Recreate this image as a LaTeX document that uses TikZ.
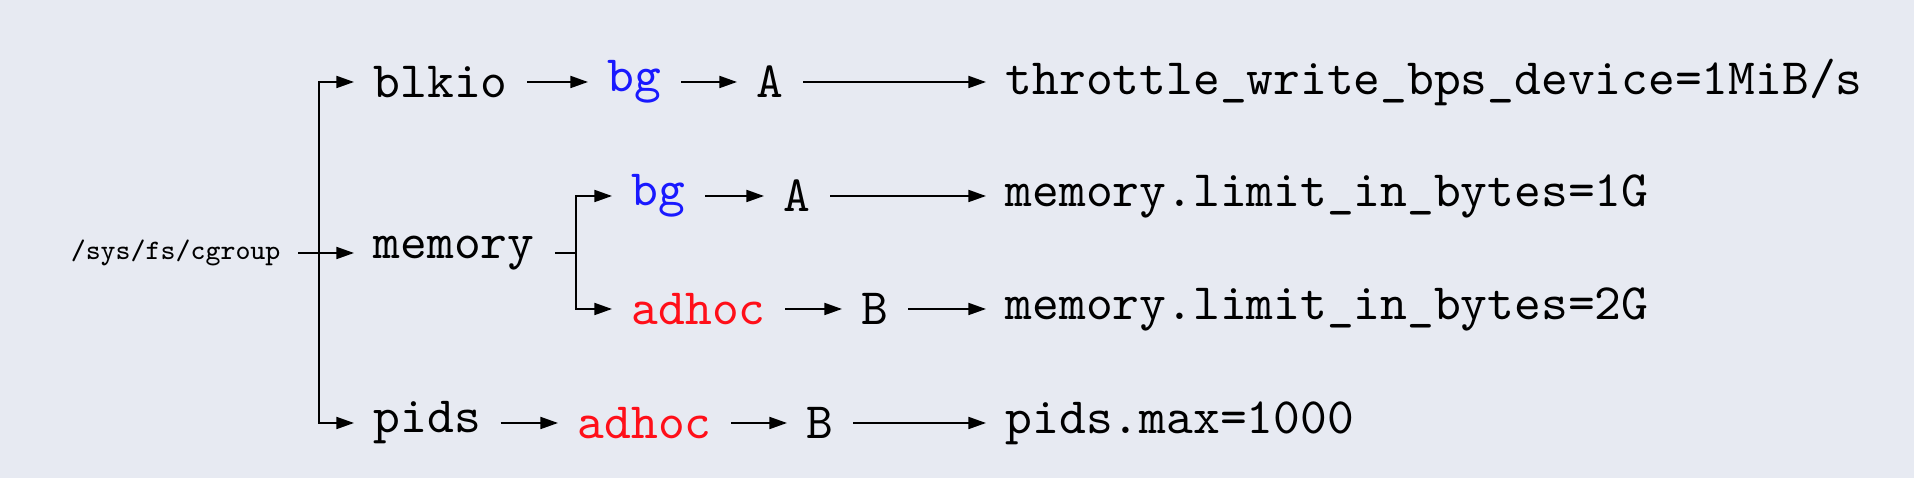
\documentclass[tikz,border=0pt]{standalone}
\usepackage{fontspec}
\newfontfamily\ttten{lmmono10-regular.otf}
\newfontfamily\tteight{lmmono8-regular.otf}
\usetikzlibrary{arrows.meta}
\definecolor{bgc}{RGB}{231,234,242}
\definecolor{cblue}{RGB}{25,25,255}
\definecolor{cred}{RGB}{255,15,25}
\begin{document}
\begin{tikzpicture}[x=0.25pt,y=-0.25pt,
  lbl/.style={font=\ttten\fontsize{12.75}{15}\selectfont, inner sep=0pt, anchor=west},
  small/.style={font=\tteight\fontsize{7.05}{9}\selectfont, inner sep=0pt, anchor=west},
  arr/.style={-{Triangle[length=4.4pt,width=3pt]}, line width=0.45pt, shorten <=4.75pt, shorten >=4.75pt},
  branch/.style={-{Triangle[length=4.4pt,width=3pt]}, line width=0.45pt, shorten >=4.75pt},
  link/.style={line width=0.45pt}]
\fill[bgc] (0,0) rectangle (1914,478);
\useasboundingbox (0,0) rectangle (1914,478);

\node[small] (root) at (70,253) {/sys/fs/cgroup};
\node[lbl] (blkio) at (373,82) {blkio};
\node[lbl] (memory) at (373,253) {memory};
\node[lbl] (pids) at (373,423) {pids};

\node[lbl,text=cblue] (bg1) at (607,82) {bg};
\node[lbl] (A1) at (756,82) {A};
\node[lbl] (t1) at (1005,82) {throttle\_write\_bps\_device=1MiB/s};

\node[lbl,text=cblue] (bg2) at (631,196) {bg};
\node[lbl] (A2) at (783,196) {A};
\node[lbl] (t2) at (1005,196) {memory.limit\_in\_bytes=1G};

\node[lbl,text=cred] (ad3) at (631,309) {adhoc};
\node[lbl] (B3) at (861,309) {B};
\node[lbl] (t3) at (1005,309) {memory.limit\_in\_bytes=2G};

\node[lbl,text=cred] (ad4) at (577,423) {adhoc};
\node[lbl] (B4) at (806,423) {B};
\node[lbl] (t4) at (1005,423) {pids.max=1000};

\coordinate (j1) at (319,253);
\coordinate (j2) at (576,253);

\draw[arr, shorten <=4.25pt] (root.east) -- (memory.west);
\draw[branch] (j1) |- (blkio.west);
\draw[branch] (j1) |- (pids.west);

\draw[link, shorten <=4.9pt] (memory.east) -- (j2);
\draw[branch] (j2) |- (bg2.west);
\draw[branch] (j2) |- (ad3.west);

\draw[arr] (blkio.east) -- (bg1.west);
\draw[arr] (bg1.east) -- (A1.west);
\draw[arr] (A1.east) -- (t1.west);

\draw[arr] (bg2.east) -- (A2.west);
\draw[arr] (A2.east) -- (t2.west);

\draw[arr] (ad3.east) -- (B3.west);
\draw[arr] (B3.east) -- (t3.west);

\draw[arr] (pids.east) -- (ad4.west);
\draw[arr] (ad4.east) -- (B4.west);
\draw[arr] (B4.east) -- (t4.west);
\end{tikzpicture}
\end{document}
